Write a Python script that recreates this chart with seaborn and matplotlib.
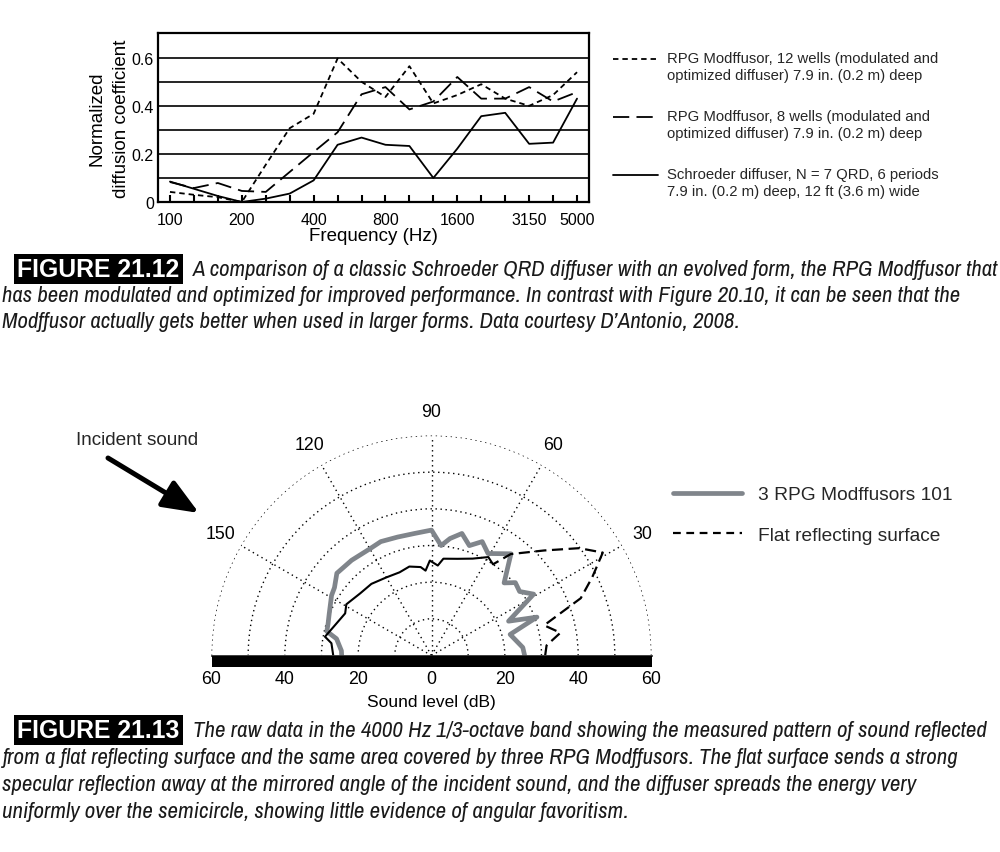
import matplotlib
matplotlib.use('Agg')
import matplotlib.pyplot as plt
import numpy as np
import seaborn as sns
from matplotlib import font_manager
from matplotlib.legend_handler import HandlerLine2D
from matplotlib.lines import Line2D
from matplotlib.patches import FancyArrowPatch

# --- Figure 21.12 data: 1/3-octave bands, normalized diffusion coefficient
bands = ['100', '125', '160', '200', '250', '315', '400', '500', '630',
         '800', '1000', '1250', '1600', '2000', '2500', '3150', '4000', '5000']
band_labels = ['100', '', '', '200', '', '', '400', '', '', '800', '', '',
               '1600', '', '', '3150', '', '5000']
modffusor_12 = [0.042, 0.03, 0.02, 0.0, 0.155, 0.307, 0.367, 0.597, 0.500,
                0.437, 0.565, 0.41, 0.445, 0.49, 0.43, 0.40, 0.445, 0.54]
modffusor_8 = [0.083, 0.058, 0.079, 0.046, 0.042, 0.125, 0.208, 0.29, 0.448,
               0.478, 0.385, 0.418, 0.52, 0.43, 0.43, 0.478, 0.418, 0.457]
schroeder = [0.085, 0.055, 0.025, 0.0, 0.014, 0.035, 0.09, 0.238, 0.268,
             0.238, 0.233, 0.10, 0.222, 0.357, 0.371, 0.242, 0.247, 0.43]
y_ticks = [0, 0.1, 0.2, 0.3, 0.4, 0.5, 0.6]
y_labels = ['0', '', '0.2', '', '0.4', '', '0.6']

# --- Figure 21.13 data: polar response at 4000 Hz (angle in degrees, level in dB)
diffuser_angle = [0, 5, 15, 20, 24, 31, 36, 41, 45, 52, 61, 66, 71, 76, 81, 85,
                  90, 98, 106, 114, 120, 130, 139, 145, 149, 158, 163, 167,
                  170, 177, 180]
diffuser_level = [25.4, 25.0, 22.2, 30.6, 23.0, 32.5, 29.7, 30.3, 28.0, 35.2,
                  31.8, 34.0, 31.7, 34.3, 32.3, 30.1, 34.2, 33.6, 33.6, 34.0,
                  33.6, 33.9, 34.2, 32.3, 31.8, 30.1, 29.5, 29.3, 26.3, 24.6, 24.5]
flat_angle = [0, 5, 10, 15, 21, 26, 31, 36, 43, 52, 56, 60, 67, 75, 83, 86, 91,
              94, 97, 104, 111, 120, 130, 139, 149, 154, 164, 170, 173, 180]
flat_level = [31.0, 31.5, 35.7, 31.8, 43.6, 48.8, 54.5, 49.8, 42.0, 35.1, 30.0,
              31.0, 28.7, 27.3, 26.6, 24.6, 25.9, 23.2, 24.3, 25.0, 24.3, 24.6,
              25.5, 25.8, 27.1, 26.2, 27.9, 29.5, 27.5, 26.8]
ring_levels = [10, 20, 30, 40, 50, 60]
spoke_angles = [30, 60, 90, 120, 150]
level_ticks = [-60, -40, -20, 0, 20, 40, 60]

GRAY = '#80858b'
W, H = 1000, 853

sns.set_theme(style='white')
plt.rcParams['font.family'] = ['Liberation Sans', 'DejaVu Sans']

# a condensed face for the captions if one is installed
_narrow = sorted({f.name for f in font_manager.fontManager.ttflist
                  if 'narrow' in f.name.lower() or 'condensed' in f.name.lower()
                  or f.stretch in ('condensed', 'semi-condensed')})
CAPTION_FONT = _narrow[:1] + ['Liberation Sans', 'DejaVu Sans']


def fx(x):
    return x / W


def fy(y):
    return 1 - y / H


class FirstLineHandler(HandlerLine2D):
    """Legend handle lifted to the first line of a two-line label."""

    def __init__(self, shift, **kw):
        super().__init__(**kw)
        self.shift = shift

    def create_artists(self, legend, orig_handle, xdescent, ydescent, width,
                       height, fontsize, trans):
        return super().create_artists(legend, orig_handle, xdescent,
                                      ydescent - 2 * self.shift, width, height,
                                      fontsize, trans)


fig = plt.figure(figsize=(10, 8.53), dpi=100)

# ================= top chart =================
ax = fig.add_axes([fx(158), fy(203), fx(589) - fx(158), (203 - 34) / H])
pos = np.arange(len(bands))
line_kw = dict(ax=ax, color='black', linewidth=1.3, estimator=None, sort=False)
sns.lineplot(x=pos, y=modffusor_12, linestyle=(0, (3, 2.2)), **line_kw)
sns.lineplot(x=pos, y=modffusor_8, linestyle=(0, (9, 4)), **line_kw)
sns.lineplot(x=pos, y=schroeder, linestyle='-', **line_kw)
ax.set_xlim(-0.5, len(bands) - 0.5)
ax.set_ylim(0, 0.703)
ax.set_xticks(pos)
ax.set_xticklabels(band_labels, fontsize=11.5)
ax.set_yticks(y_ticks)
ax.set_yticklabels(y_labels, fontsize=11.5)
ax.yaxis.grid(True, color='black', linewidth=1.2)
ax.xaxis.grid(False)
ax.tick_params(axis='x', direction='in', length=5, width=1.5, bottom=True,
               pad=7, colors='black')
ax.tick_params(axis='y', length=0, pad=3, colors='black')
for s in ax.spines.values():
    s.set_color('black')
    s.set_linewidth(1.6)
ax.set_xlabel('Frequency (Hz)', fontsize=13.5, labelpad=0, color='black')
ax.set_ylabel('Normalized\ndiffusion coefficient', fontsize=13.5,
              labelpad=1, color='black', linespacing=1.55)

top_handles = [
    Line2D([], [], color='black', lw=1.3, linestyle=(0, (3, 2.2))),
    Line2D([], [], color='black', lw=1.3, linestyle=(0, (9, 4))),
    Line2D([], [], color='black', lw=1.3, linestyle='-'),
]
top_labels = [
    'RPG Modffusor, 12 wells (modulated and\noptimized diffuser) 7.9 in. (0.2 m) deep',
    'RPG Modffusor, 8 wells (modulated and\noptimized diffuser) 7.9 in. (0.2 m) deep',
    'Schroeder diffuser, N = 7 QRD, 6 periods\n7.9 in. (0.2 m) deep, 12 ft (3.6 m) wide',
]
leg_fs = 10.7
top_leg = ax.legend(top_handles, top_labels, loc='upper left',
                    bbox_to_anchor=(fx(613), fy(52)),
                    bbox_transform=fig.transFigure, frameon=False,
                    borderpad=0, borderaxespad=0, prop={'size': leg_fs},
                    handlelength=3.05, handletextpad=0.6, labelspacing=1.8,
                    handler_map={Line2D: FirstLineHandler(6.0)})
for t in top_leg.get_texts():
    t.set_linespacing(1.3)

# ================= polar chart =================
# square box: the upper half-disc sits in its middle, diameter at y=656.5 px
pax = fig.add_axes([fx(211.5), fy(766.5), 440 / W, 440 / H], projection='polar')
pax.set_thetamin(0)
pax.set_thetamax(180)
pax.set_facecolor('none')
sns.lineplot(x=np.deg2rad(diffuser_angle), y=diffuser_level, ax=pax,
             color=GRAY, linewidth=3.4, estimator=None, sort=False)
split = flat_angle.index(56)
flat_rad = np.deg2rad(flat_angle)
sns.lineplot(x=flat_rad[:split + 1], y=flat_level[:split + 1], ax=pax,
             color='black', linewidth=1.6, linestyle=(0, (5, 2.5)),
             estimator=None, sort=False)
sns.lineplot(x=flat_rad[split:], y=flat_level[split:], ax=pax,
             color='black', linewidth=1.5, estimator=None, sort=False)
pax.set_ylim(0, 60)
pax.set_yticks(ring_levels)
pax.set_yticklabels([])
pax.set_xticks(np.deg2rad(spoke_angles))
pax.set_xticklabels([str(a) for a in spoke_angles], fontsize=12.8)
pax.tick_params(axis='x', pad=4, colors='black')
pax.grid(True, color='black', linestyle=(0, (1, 2.6)), linewidth=1.0)
for s in pax.spines.values():
    s.set_visible(False)

pol_handles = [
    Line2D([], [], color=GRAY, lw=3.4),
    Line2D([], [], color='black', lw=1.6, linestyle=(0, (3.5, 2.5))),
]
pax.legend(pol_handles, ['3 RPG Modffusors 101', 'Flat reflecting surface'],
           loc='upper left', bbox_to_anchor=(fx(673), fy(487)),
           bbox_transform=fig.transFigure, frameon=False, borderpad=0,
           borderaxespad=0, prop={'size': 13.8}, handlelength=3.6,
           handletextpad=0.82, labelspacing=1.2)

# diffuser floor and the level scale beneath it
bax = fig.add_axes([fx(211.5), fy(668), 440 / W, 11.5 / H])
bax.set_facecolor('black')
bax.set_xlim(level_ticks[0], level_ticks[-1])
bax.set_xticks(level_ticks)
bax.set_xticklabels([str(abs(v)) for v in level_ticks], fontsize=12.8)
bax.set_yticks([])
bax.tick_params(axis='x', length=0, pad=2, colors='black')
for s in bax.spines.values():
    s.set_visible(False)
bax.set_xlabel('Sound level (dB)', fontsize=12.5, labelpad=5, color='black')

fig.text(fx(137), fy(441), 'Incident sound', ha='center', va='center',
         fontsize=13.6)
fig.add_artist(FancyArrowPatch(
    (fx(108), fy(459)), (fx(199), fy(514)), transform=fig.transFigure,
    arrowstyle='-|>,head_length=2.2,head_width=0.9', mutation_scale=10,
    lw=3.6, color='black', shrinkA=0, shrinkB=0))

# ================= captions =================
renderer = fig.canvas.get_renderer()


def caption(label, lines, right_edges, y0, pitch):
    fig.text(fx(17), fy(y0), label, ha='left', va='center', color='white',
             fontsize=17.8, fontweight='bold', family=CAPTION_FONT[1:],
             bbox=dict(boxstyle='square,pad=0.14', fc='black', ec='none'))
    texts = []
    for i, line in enumerate(lines):
        x = 193 if i == 0 else 2
        t = fig.text(fx(x), fy(y0 + i * pitch), line, ha='left', va='center',
                     fontsize=14, style='italic', family=CAPTION_FONT,
                     color='#1a1a1a')
        texts.append((t, right_edges[i] - x))
    # one size per caption, fitted so no full line runs past its right edge
    ratios = [w / t.get_window_extent(renderer).width for t, w in texts[:-1]]
    size = 14 * float(min(ratios))
    for t, _ in texts:
        t.set_fontsize(size)


caption('FIGURE 21.12', [
    'A comparison of a classic Schroeder QRD diffuser with an evolved form, '
    'the RPG Modffusor that',
    'has been modulated and optimized for improved performance. In contrast '
    'with Figure 20.10, it can be seen that the',
    'Modffusor actually gets better when used in larger forms. Data courtesy '
    'D\u2019Antonio, 2008.',
], [994, 997, 770], 270, 26)

caption('FIGURE 21.13', [
    'The raw data in the 4000 Hz 1/3-octave band showing the measured pattern '
    'of sound reflected',
    'from a flat reflecting surface and the same area covered by three RPG '
    'Modffusors. The flat surface sends a strong',
    'specular reflection away at the mirrored angle of the incident sound, and '
    'the diffuser spreads the energy very',
    'uniformly over the semicircle, showing little evidence of angular '
    'favoritism.',
], [985, 985, 940, 648], 731, 27)

fig.savefig('out.png', dpi=100)
